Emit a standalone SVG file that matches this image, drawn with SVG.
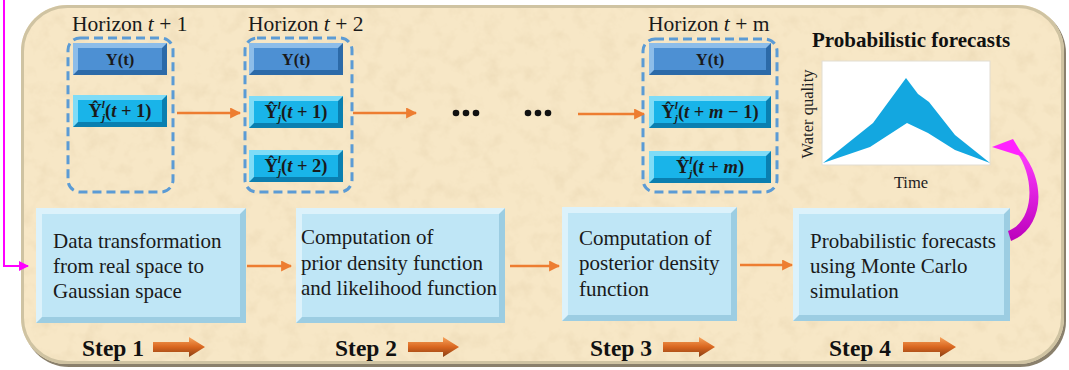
<svg xmlns="http://www.w3.org/2000/svg" width="1069" height="370" viewBox="0 0 1069 370">
  <defs>
    <style>
      .hz { font-family: "Liberation Serif", serif; font-size: 21.5px; fill: #1a1a1a; }
      .yt { font-family: "Liberation Serif", serif; font-size: 16.5px; font-weight: bold; fill: #1a1a1a; text-anchor: middle; }
      .yh { font-family: "Liberation Serif", serif; font-size: 18.5px; font-weight: bold; fill: #1a1a1a; text-anchor: middle; }
      .it { font-style: italic; }
      .sm { font-size: 11px; font-style: italic; }
      .bx { font-family: "Liberation Serif", serif; font-size: 21px; fill: #1a1a1a; }
      .st { font-family: "Liberation Serif", serif; font-size: 23.5px; font-weight: bold; fill: #111; }
      .ttl { font-family: "Liberation Serif", serif; font-size: 21px; font-weight: bold; fill: #111; }
      .ax { font-family: "Liberation Serif", serif; font-size: 16.5px; fill: #222; }
      .dash { fill: none; stroke: #5b9bd5; stroke-width: 3; stroke-dasharray: 9 5; }
      .orange { stroke: #ed7d31; stroke-width: 2.5; fill: none; marker-end: url(#ah); }
      .sb-dk { fill: #9ccde2; }
      .sb-lt { fill: #dcf2fb; }
      .sb-md { fill: #bfe6f6; }
      .yb-dk { fill: #2c6aa8; }
      .yb-lt { fill: #8dbde9; }
      .yb-md { fill: #4d90d3; }
      .cb-dk { fill: #0a7fb0; }
      .cb-lt { fill: #7fdcf7; }
      .cb-md { fill: #19b4e9; }
    </style>
    <marker id="ah" viewBox="0 0 10 10" refX="9" refY="5" markerWidth="4.4" markerHeight="4.4" orient="auto" markerUnits="strokeWidth">
      <path d="M0,0 L10,5 L0,10 z" fill="#ed7d31"/>
    </marker>
    <marker id="mh" viewBox="0 0 10 10" refX="9" refY="5" markerWidth="5" markerHeight="5" orient="auto" markerUnits="strokeWidth">
      <path d="M0,0 L10,5 L0,10 z" fill="#ff00ff"/>
    </marker>
    <linearGradient id="stepArrow" x1="0" y1="0" x2="0" y2="1">
      <stop offset="0" stop-color="#f7a35c"/>
      <stop offset="0.5" stop-color="#d9661f"/>
      <stop offset="1" stop-color="#8a3f14"/>
    </linearGradient>
    <linearGradient id="magGrad" x1="0" y1="0" x2="0" y2="1">
      <stop offset="0" stop-color="#ff3cff"/>
      <stop offset="1" stop-color="#bb00bb"/>
    </linearGradient>
    <filter id="paper" x="0" y="0" width="100%" height="100%">
      <feTurbulence type="fractalNoise" baseFrequency="0.06" numOctaves="4" seed="7" result="n"/>
      <feColorMatrix in="n" type="matrix" values="0 0 0 0 0.82  0 0 0 0 0.68  0 0 0 0 0.45  1.3 0 0 0 -0.6"/>
    </filter>
    <clipPath id="panelClip">
      <rect x="21" y="5" width="1043" height="359" rx="46"/>
    </clipPath>
  </defs>

  <!-- parchment panel -->
  <g id="panel">
    <rect x="23" y="7" width="1043" height="360" rx="46" fill="#8a806c"/>
    <rect x="21" y="5" width="1043" height="359" rx="46" fill="#f7e7c6"/>
    <rect x="21" y="5" width="1043" height="359" filter="url(#paper)" clip-path="url(#panelClip)"/>
    <rect x="22.5" y="6.5" width="1040" height="356" rx="45" fill="none" stroke="#cfc3a2" stroke-width="3"/>
  </g>

  <!-- forecast horizons -->
  <g id="horizon1">
    <text class="hz" x="72" y="31">Horizon <tspan class="it">t</tspan> + 1</text>
    <rect class="dash" x="68" y="38" width="105" height="154" rx="12"/>
    <g id="h1-y">
      <rect class="yb-dk" x="73" y="43" width="94" height="32"/>
      <polygon class="yb-lt" points="73,43 167,43 162,48 78,48 78,70 73,75"/>
      <rect class="yb-md" x="78" y="48" width="84" height="22"/>
      <text class="yt" x="120" y="65">Y(t)</text>
    </g>
    <g id="h1-f1">
      <rect class="cb-dk" x="73" y="95" width="94" height="32"/>
      <polygon class="cb-lt" points="73,95 167,95 162,100 78,100 78,122 73,127"/>
      <rect class="cb-md" x="78" y="100" width="84" height="22"/>
      <text class="yh" x="120" y="117">Ŷ<tspan class="sm" dy="-9">l</tspan><tspan class="sm" dx="-3" dy="13">j</tspan><tspan dy="-4">(</tspan><tspan class="it">t</tspan> + 1)</text>
    </g>
  </g>

  <g id="horizon2">
    <text class="hz" x="248" y="31">Horizon <tspan class="it">t</tspan> + 2</text>
    <rect class="dash" x="245" y="38" width="107" height="154" rx="12"/>
    <g id="h2-y">
      <rect class="yb-dk" x="249" y="43" width="94" height="32"/>
      <polygon class="yb-lt" points="249,43 343,43 338,48 254,48 254,70 249,75"/>
      <rect class="yb-md" x="254" y="48" width="84" height="22"/>
      <text class="yt" x="296" y="65">Y(t)</text>
    </g>
    <g id="h2-f1">
      <rect class="cb-dk" x="249" y="96" width="94" height="32"/>
      <polygon class="cb-lt" points="249,96 343,96 338,101 254,101 254,123 249,128"/>
      <rect class="cb-md" x="254" y="101" width="84" height="22"/>
      <text class="yh" x="296" y="118">Ŷ<tspan class="sm" dy="-9">l</tspan><tspan class="sm" dx="-3" dy="13">j</tspan><tspan dy="-4">(</tspan><tspan class="it">t</tspan> + 1)</text>
    </g>
    <g id="h2-f2">
      <rect class="cb-dk" x="249" y="150" width="94" height="32"/>
      <polygon class="cb-lt" points="249,150 343,150 338,155 254,155 254,177 249,182"/>
      <rect class="cb-md" x="254" y="155" width="84" height="22"/>
      <text class="yh" x="296" y="172">Ŷ<tspan class="sm" dy="-9">l</tspan><tspan class="sm" dx="-3" dy="13">j</tspan><tspan dy="-4">(</tspan><tspan class="it">t</tspan> + 2)</text>
    </g>
  </g>

  <g id="ellipsis">
    <circle cx="456" cy="113" r="3.3" fill="#111"/>
    <circle cx="466" cy="113" r="3.3" fill="#111"/>
    <circle cx="476" cy="113" r="3.3" fill="#111"/>
    <circle cx="528" cy="113" r="3.3" fill="#111"/>
    <circle cx="538" cy="113" r="3.3" fill="#111"/>
    <circle cx="548" cy="113" r="3.3" fill="#111"/>
  </g>

  <g id="horizonM">
    <text class="hz" x="648" y="31">Horizon <tspan class="it">t</tspan> + m</text>
    <rect class="dash" x="643" y="39" width="134" height="153" rx="12"/>
    <g id="hm-y">
      <rect class="yb-dk" x="649" y="43" width="122" height="32"/>
      <polygon class="yb-lt" points="649,43 771,43 766,48 654,48 654,70 649,75"/>
      <rect class="yb-md" x="654" y="48" width="112" height="22"/>
      <text class="yt" x="710" y="65">Y(t)</text>
    </g>
    <g id="hm-f1">
      <rect class="cb-dk" x="649" y="96" width="122" height="32"/>
      <polygon class="cb-lt" points="649,96 771,96 766,101 654,101 654,123 649,128"/>
      <rect class="cb-md" x="654" y="101" width="112" height="22"/>
      <text class="yh" x="710" y="118">Ŷ<tspan class="sm" dy="-9">l</tspan><tspan class="sm" dx="-3" dy="13">j</tspan><tspan dy="-4">(</tspan><tspan class="it">t</tspan> + <tspan class="it">m</tspan> − 1)</text>
    </g>
    <g id="hm-f2">
      <rect class="cb-dk" x="649" y="151" width="122" height="32"/>
      <polygon class="cb-lt" points="649,151 771,151 766,156 654,156 654,178 649,183"/>
      <rect class="cb-md" x="654" y="156" width="112" height="22"/>
      <text class="yh" x="710" y="173">Ŷ<tspan class="sm" dy="-9">l</tspan><tspan class="sm" dx="-3" dy="13">j</tspan><tspan dy="-4">(</tspan><tspan class="it">t</tspan> + <tspan class="it">m</tspan>)</text>
    </g>
  </g>

  <!-- probabilistic forecast chart -->
  <g id="forecastChart">
    <text class="ttl" x="812" y="47">Probabilistic forecasts</text>
    <rect x="822" y="61" width="168" height="104" fill="#ffffff" stroke="#e2ddd2" stroke-width="1"/>
    <polygon fill="#13a7e0" points="823,163 873,123 906,78 918,94 929,102 955,135 990,163 955,150 928,133 907,123 870,147"/>
    <text class="ax" transform="translate(813,114) rotate(-90)" text-anchor="middle">Water quality</text>
    <text class="ax" x="911" y="188" text-anchor="middle">Time</text>
  </g>

  <!-- processing steps -->
  <g id="step1">
    <rect class="sb-dk" x="36" y="208" width="210" height="115"/>
    <polygon class="sb-lt" points="36,208 246,208 240,214 42,214 42,317 36,323"/>
    <rect class="sb-md" x="42" y="214" width="198" height="103"/>
    <text class="bx"><tspan x="53" y="248">Data transformation</tspan><tspan x="53" y="273">from real space to</tspan><tspan x="53" y="298">Gaussian space</tspan></text>
  </g>
  <g id="step2">
    <rect class="sb-dk" x="296" y="208" width="209" height="115"/>
    <polygon class="sb-lt" points="296,208 505,208 499,214 302,214 302,317 296,323"/>
    <rect class="sb-md" x="302" y="214" width="197" height="103"/>
    <text class="bx"><tspan x="301" y="244">Computation of</tspan><tspan x="301" y="270">prior density function</tspan><tspan x="301" y="295">and likelihood function</tspan></text>
  </g>
  <g id="step3">
    <rect class="sb-dk" x="562" y="207" width="175" height="114"/>
    <polygon class="sb-lt" points="562,207 737,207 731,213 568,213 568,315 562,321"/>
    <rect class="sb-md" x="568" y="213" width="163" height="102"/>
    <text class="bx"><tspan x="579" y="245">Computation of</tspan><tspan x="579" y="270">posterior density</tspan><tspan x="579" y="296">function</tspan></text>
  </g>
  <g id="step4">
    <rect class="sb-dk" x="793" y="208" width="217" height="113"/>
    <polygon class="sb-lt" points="793,208 1010,208 1004,214 799,214 799,315 793,321"/>
    <rect class="sb-md" x="799" y="214" width="205" height="101"/>
    <text class="bx"><tspan x="810" y="248">Probabilistic forecasts</tspan><tspan x="810" y="273">using Monte Carlo</tspan><tspan x="810" y="298">simulation</tspan></text>
  </g>

  <!-- step labels with block arrows -->
  <g id="stepLabels">
    <text class="st" x="82" y="356">Step 1</text>
    <polygon fill="url(#stepArrow)" points="153,342 189,342 189,337 205,347 189,357 189,352 153,352"/>
    <text class="st" x="335" y="356">Step 2</text>
    <polygon fill="url(#stepArrow)" points="408,342 443,342 443,337 459,347 443,357 443,352 408,352"/>
    <text class="st" x="590" y="356">Step 3</text>
    <polygon fill="url(#stepArrow)" points="663,342 699,342 699,337 715,347 699,357 699,352 663,352"/>
    <text class="st" x="829" y="356">Step 4</text>
    <polygon fill="url(#stepArrow)" points="903,342 940,342 940,337 956,347 940,357 940,352 903,352"/>
  </g>

  <!-- connectors -->
  <g id="connectors">
    <line class="orange" x1="177" y1="113" x2="240" y2="113"/>
    <line class="orange" x1="353" y1="113" x2="416" y2="113"/>
    <line class="orange" x1="578" y1="114" x2="644" y2="114"/>
    <line class="orange" x1="247" y1="266" x2="291" y2="266"/>
    <line class="orange" x1="510" y1="266" x2="559" y2="266"/>
    <line class="orange" x1="740" y1="265" x2="792" y2="265"/>
    <polyline points="4,0 4,266 28,266" fill="none" stroke="#ff00ff" stroke-width="2" marker-end="url(#mh)"/>
    <path d="M1011,241 C1041,230 1049,186 1022,152 L1016,151 C1036,178 1034,222 1008,231 Z" fill="url(#magGrad)"/>
    <polygon points="992,147 1013,139 1024,157" fill="#ff22ff"/>
  </g>
</svg>
